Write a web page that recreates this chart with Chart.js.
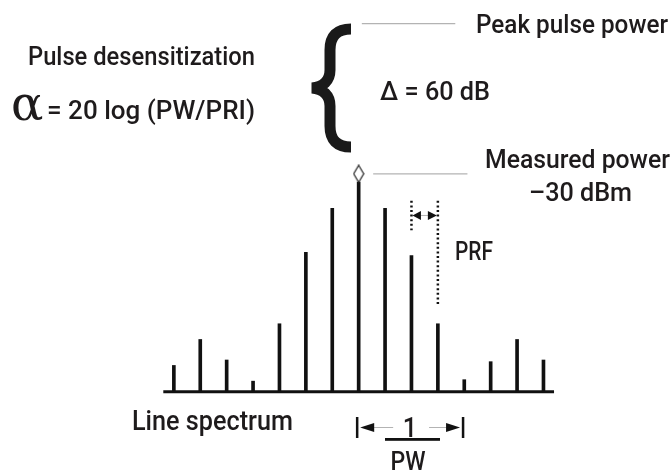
<!DOCTYPE html>
<html>
<head>
<meta charset="utf-8">
<script src="https://cdn.jsdelivr.net/npm/chart.js@4"></script>
<style>
  html, body { margin: 0; padding: 0; background: #fff; }
  #canvas-container { width: 672px; height: 472px; }
</style>
</head>
<body>
<div id="canvas-container"><canvas id="chart" width="672" height="472"></canvas></div>
<script>
// spectral lines: harmonic number (multiples of PRF) and relative amplitude
const harmonics = [-7, -6, -5, -4, -3, -2, -1, 0, 1, 2, 3, 4, 5, 6, 7];
const lineLevels = [12.5, 24.9, 15.1, 5.0, 32.4, 66.5, 87.5, 100, 87.5, 65.0, 32.4, 5.7, 14.3, 24.9, 15.1];

// reference levels
const peakPowerLevel = 175.7;
const measuredLevel = 104;
const prfHarmonics = [2, 3];
const pwSpan = [0, 4];

const textColor = '#1e1b1c';
const grayLine = '#b3b3b3';

// little tall diamond used as marker on the top of the centre line
function diamondImage() {
  const c = document.createElement('canvas');
  c.width = 12; c.height = 19;
  const g = c.getContext('2d');
  g.beginPath();
  g.moveTo(6, 1); g.lineTo(11, 9.5); g.lineTo(6, 18); g.lineTo(1, 9.5); g.closePath();
  g.fillStyle = '#fff'; g.fill();
  g.lineWidth = 1.2; g.strokeStyle = '#222'; g.stroke();
  return c;
}

// draws text squeezed to a given width (condensed look)
function label(ctx, text, x, y, width, size, align) {
  ctx.save();
  ctx.font = '500 ' + size + 'px Roboto';
  ctx.fillStyle = textColor;
  ctx.textBaseline = 'alphabetic';
  ctx.textAlign = align || 'left';
  const m = ctx.measureText(text).width;
  ctx.translate(x, y);
  ctx.scale(width ? width / m : 0.9, 1);
  ctx.fillText(text, 0, 0);
  ctx.restore();
}

function arrowHead(ctx, tipX, baseX, y, half) {
  ctx.beginPath();
  ctx.moveTo(tipX, y);
  ctx.lineTo(baseX, y - half);
  ctx.lineTo(baseX, y + half);
  ctx.closePath();
  ctx.fill();
}

const annotations = {
  id: 'annotations',
  afterDraw(chart) {
    const ctx = chart.ctx;
    const xs = chart.scales.x, ys = chart.scales.y;
    ctx.save();

    // curly brace between peak power and measured power
    ctx.strokeStyle = '#1a1a1a';
    ctx.lineWidth = 11;
    ctx.lineCap = 'butt';
    ctx.lineJoin = 'miter';
    ctx.miterLimit = 1.6;
    ctx.beginPath();
    ctx.moveTo(351, 29);
    ctx.bezierCurveTo(337, 29, 330, 36, 330, 50);
    ctx.lineTo(330, 70);
    ctx.bezierCurveTo(330, 81, 323, 87, 312, 88);
    ctx.bezierCurveTo(323, 89, 330, 95, 330, 106);
    ctx.lineTo(330, 126);
    ctx.bezierCurveTo(330, 140, 337, 147, 351, 147);
    ctx.stroke();

    // PRF arrows between the dotted markers
    const prfY = ys.getPixelForValue(84.1);
    const pL = xs.getPixelForValue(prfHarmonics[0]);
    const pR = xs.getPixelForValue(prfHarmonics[1]);
    ctx.strokeStyle = grayLine; ctx.lineWidth = 1;
    ctx.beginPath(); ctx.moveTo(pL + 8, prfY); ctx.lineTo(pR - 9, prfY); ctx.stroke();
    ctx.fillStyle = '#111';
    arrowHead(ctx, pL + 1, pL + 9.5, prfY, 4.5);
    arrowHead(ctx, pR - 1, pR - 10, prfY, 4.5);

    // 1/PW bracket
    const bL = xs.getPixelForValue(pwSpan[0]) - 1.5;
    const bR = xs.getPixelForValue(pwSpan[1]) - 1.2;
    const bY = 427.5;
    ctx.strokeStyle = '#111'; ctx.lineWidth = 2.5;
    ctx.beginPath();
    ctx.moveTo(bL, 417); ctx.lineTo(bL, 438);
    ctx.moveTo(bR, 417); ctx.lineTo(bR, 438);
    ctx.stroke();
    ctx.strokeStyle = grayLine; ctx.lineWidth = 1;
    ctx.beginPath();
    ctx.moveTo(bL + 16, bY); ctx.lineTo(bL + 36, bY);
    ctx.moveTo(bR - 34, bY); ctx.lineTo(bR - 16, bY);
    ctx.stroke();
    ctx.fillStyle = '#111';
    arrowHead(ctx, bL + 3, bL + 17, bY, 4.5);
    arrowHead(ctx, bR - 3, bR - 17, bY, 4.5);
    ctx.fillRect(385, 438, 55, 2.8);

    // texts
    label(ctx, 'Peak pulse power', 476, 33, 192, 26);
    label(ctx, '\u0394 = 60 dB', 380, 100, 110, 26);
    label(ctx, 'Measured power', 485, 168, 185, 26);
    label(ctx, '\u201330 dBm', 529, 201, 103, 26);
    label(ctx, 'Pulse desensitization', 28, 65, 227, 26);
    label(ctx, '= 20 log (PW/PRI)', 47, 119, 208, 26);
    label(ctx, 'PRF', 455, 260, 38, 26);
    label(ctx, 'Line spectrum', 132, 430, 161, 27);
    label(ctx, '1', 410, 437, null, 28, 'center');
    label(ctx, 'PW', 408, 470, 35, 26, 'center');

    ctx.font = '48px "DejaVu Serif"';
    ctx.fillStyle = textColor;
    ctx.textAlign = 'left';
    ctx.fillText('\u03b1', 11, 120);

    ctx.restore();
  }
};

function createChart() {
  const ctx = document.getElementById('chart').getContext('2d');
  new Chart(ctx, {
    type: 'bar',
    data: {
      datasets: [
        {
          type: 'bar',
          data: harmonics.map((h, i) => ({ x: h, y: lineLevels[i] })),
          backgroundColor: '#111',
          barThickness: 3,
          order: 3,
        },
        {
          type: 'line',
          data: [{ x: -7.4, y: 0 }, { x: 7.4, y: 0 }],
          borderColor: '#111',
          borderWidth: 3,
          pointRadius: 0,
          order: 2,
        },
        {
          type: 'line',
          data: [{ x: 0.12, y: peakPowerLevel }, { x: 3.66, y: peakPowerLevel }],
          borderColor: grayLine,
          borderWidth: 1.3,
          pointRadius: 0,
        },
        {
          type: 'line',
          data: [{ x: 0.55, y: measuredLevel }, { x: 4.12, y: measuredLevel }],
          borderColor: grayLine,
          borderWidth: 1.3,
          pointRadius: 0,
        },
        {
          type: 'line',
          data: [{ x: prfHarmonics[0], y: 91.1 }, { x: prfHarmonics[0], y: 77.1 }],
          borderColor: '#111',
          borderWidth: 2.5,
          borderDash: [2, 2.6],
          pointRadius: 0,
        },
        {
          type: 'line',
          data: [{ x: prfHarmonics[1], y: 91.1 }, { x: prfHarmonics[1], y: 41.1 }],
          borderColor: '#111',
          borderWidth: 2.5,
          borderDash: [2, 2.6],
          pointRadius: 0,
        },
        {
          type: 'scatter',
          data: [{ x: 0, y: measuredLevel }],
          pointStyle: diamondImage(),
          order: 0,
        },
      ],
    },
    options: {
      responsive: false,
      animation: false,
      devicePixelRatio: 1,
      layout: { padding: 0 },
      plugins: { legend: { display: false }, tooltip: { enabled: false } },
      scales: {
        x: { type: 'linear', min: -13.396, max: 11.679, offset: false, display: false },
        y: { type: 'linear', min: -35.98, max: 184.58, display: false },
      },
    },
    plugins: [annotations],
  });
}

createChart();
</script>
</body>
</html>
